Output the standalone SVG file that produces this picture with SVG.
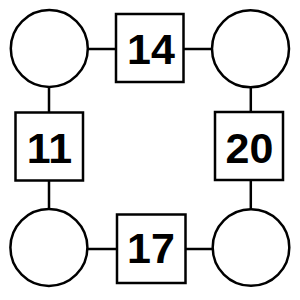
<svg xmlns="http://www.w3.org/2000/svg" width="300" height="300" viewBox="0 0 300 300">
<style>
.c{fill:#fff;stroke:#000;stroke-width:2.5}
.s{fill:#fff;stroke:#000;stroke-width:2.5}
.t{font-family:"Liberation Sans",Arial,sans-serif;font-weight:bold;font-size:43px;text-anchor:middle;fill:#000}
.e{stroke:#000;stroke-width:2.5;fill:none}
</style>
<rect width="300" height="300" fill="#fff"/>
<g id="connectors">
<line class="e" x1="88" y1="49" x2="116" y2="49"/>
<line class="e" x1="184" y1="49" x2="212" y2="49"/>
<line class="e" x1="87.5" y1="249" x2="117" y2="249"/>
<line class="e" x1="185" y1="249" x2="212.5" y2="249"/>
<line class="e" x1="49" y1="87" x2="49" y2="112.5"/>
<line class="e" x1="49" y1="180.5" x2="49" y2="209"/>
<line class="e" x1="250.8" y1="87.5" x2="250.8" y2="112"/>
<line class="e" x1="250.8" y1="180" x2="250.8" y2="209"/>
</g>
<g id="circle-tl"><circle class="c" cx="49.3" cy="48.5" r="38.5"/></g>
<g id="circle-tr"><circle class="c" cx="250.5" cy="48.8" r="38.5"/></g>
<g id="circle-bl"><circle class="c" cx="48.9" cy="247.5" r="38.5"/></g>
<g id="circle-br"><circle class="c" cx="251" cy="247.5" r="38.3"/></g>
<g id="box-14"><rect class="s" x="116" y="14" width="67.5" height="68"/><text class="t" x="151" y="64">14</text></g>
<g id="box-11"><rect class="s" x="15.5" y="112.5" width="67.5" height="68"/><text class="t" x="49.5" y="163">11</text></g>
<g id="box-20"><rect class="s" x="215" y="112" width="68" height="68"/><text class="t" x="249.5" y="163">20</text></g>
<g id="box-17"><rect class="s" x="117" y="214.5" width="68.5" height="68.5"/><text class="t" x="151" y="262.5">17</text></g>
</svg>
